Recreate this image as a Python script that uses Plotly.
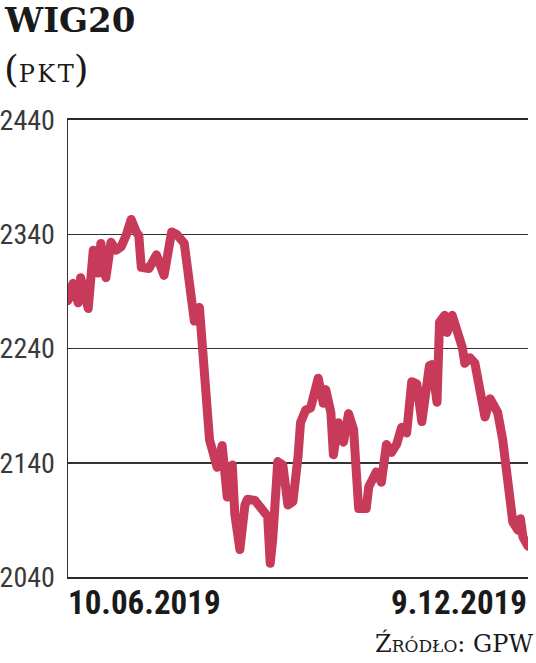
import plotly.graph_objects as go

# --- data ---
dates = [
    "2019-06-10", "2019-06-12", "2019-06-14", "2019-06-15", "2019-06-18", "2019-06-20",
    "2019-06-22", "2019-06-23", "2019-06-25", "2019-06-27", "2019-06-29", "2019-07-01",
    "2019-07-03", "2019-07-05", "2019-07-07", "2019-07-08", "2019-07-09", "2019-07-12",
    "2019-07-15", "2019-07-18", "2019-07-21", "2019-07-23", "2019-07-26", "2019-07-27",
    "2019-07-28", "2019-07-30", "2019-08-01", "2019-08-03", "2019-08-05", "2019-08-08",
    "2019-08-10", "2019-08-12", "2019-08-14", "2019-08-15", "2019-08-17", "2019-08-19",
    "2019-08-20", "2019-08-23", "2019-08-26", "2019-08-28", "2019-08-29", "2019-08-30",
    "2019-09-01", "2019-09-03", "2019-09-05", "2019-09-07", "2019-09-09", "2019-09-10",
    "2019-09-12", "2019-09-14", "2019-09-17", "2019-09-19", "2019-09-20", "2019-09-22",
    "2019-09-23", "2019-09-25", "2019-09-27", "2019-09-29", "2019-10-01", "2019-10-03",
    "2019-10-06", "2019-10-07", "2019-10-10", "2019-10-12", "2019-10-14", "2019-10-16",
    "2019-10-18", "2019-10-20", "2019-10-22", "2019-10-24", "2019-10-26", "2019-10-28",
    "2019-10-31", "2019-11-01", "2019-11-03", "2019-11-04", "2019-11-06", "2019-11-07",
    "2019-11-09", "2019-11-11", "2019-11-13", "2019-11-14", "2019-11-16", "2019-11-18",
    "2019-11-20", "2019-11-22", "2019-11-24", "2019-11-27", "2019-11-29", "2019-12-01",
    "2019-12-03", "2019-12-05", "2019-12-06", "2019-12-07", "2019-12-09",
]
wig20 = [
    2282, 2297, 2280, 2302, 2275, 2326,
    2306, 2332, 2302, 2333, 2326, 2329,
    2339, 2353, 2342, 2339, 2311, 2310,
    2322, 2304, 2342, 2340, 2332, 2314,
    2303, 2264, 2276, 2226, 2160, 2136,
    2155, 2110, 2138, 2095, 2064, 2103,
    2108, 2107, 2100, 2093, 2052, 2073,
    2141, 2138, 2103, 2106, 2145, 2175,
    2186, 2188, 2214, 2192, 2204, 2184,
    2147, 2175, 2158, 2183, 2169, 2100,
    2100, 2119, 2132, 2123, 2156, 2149,
    2156, 2171, 2166, 2211, 2209, 2176,
    2225, 2226, 2193, 2263, 2269, 2254,
    2269, 2255, 2241, 2227, 2232, 2227,
    2201, 2180, 2196, 2184, 2160, 2120,
    2088, 2081, 2091, 2075, 2067,
]
y_ticks = [2040, 2140, 2240, 2340, 2440]
date_labels = ["10.06.2019", "9.12.2019"]
title_text = "WIG20"
unit_letters = "PKT"
source_text = "Źródło: GPW"

LINE_COLOR = "#C73A5A"
NARROW = "Liberation Sans Narrow, Roboto Condensed, DejaVu Sans Condensed, sans-serif"
SERIF = "DejaVu Serif, Liberation Serif, serif"

fig = go.Figure()
fig.add_trace(go.Scatter(
    x=dates, y=wig20, mode="lines",
    line=dict(color=LINE_COLOR, width=9),
    hoverinfo="skip", showlegend=False,
))

unit_html = ('<span style="font-size:38px">(</span>'
             + "&#8202;".join(unit_letters)
             + '<span style="font-size:38px">)</span>')

fig.update_layout(
    width=536, height=663,
    margin=dict(l=68, r=8, t=120, b=86, autoexpand=False),
    paper_bgcolor="white", plot_bgcolor="white",
    xaxis=dict(
        range=[dates[0], dates[-1]],
        showgrid=False, zeroline=False, automargin=False,
        showticklabels=False, ticks="",
        showline=True, mirror=True, linecolor="#2a2a2a", linewidth=1.8,
    ),
    yaxis=dict(
        range=[y_ticks[0], y_ticks[-1]],
        tickvals=y_ticks, ticktext=[str(v) for v in y_ticks],
        showgrid=True, gridcolor="#333", gridwidth=1.5,
        zeroline=False, ticks="", automargin=False,
        showline=True, linecolor="#333", linewidth=1.5,
        tickfont=dict(family=NARROW, size=28, color="#3a3a3a"),
        ticklabelstandoff=6,
    ),
    annotations=[
        dict(text=f"<b>{title_text}</b>", xref="paper", yref="paper",
             x=-0.143, y=1.219, xanchor="left", yanchor="middle", showarrow=False,
             font=dict(family=SERIF, size=34, color="#1a1a1a")),
        dict(text=unit_html, xref="paper", yref="paper",
             x=-0.143, y=1.112, xanchor="left", yanchor="middle", showarrow=False,
             font=dict(family=SERIF, size=24, color="#1a1a1a")),
        dict(text=date_labels[0], xref="paper", yref="paper",
             x=-0.004, y=-0.055, xanchor="left", yanchor="middle", showarrow=False,
             font=dict(family=NARROW, size=33, color="#1a1a1a", weight="bold")),
        dict(text=date_labels[1], xref="paper", yref="paper",
             x=1.002, y=-0.055, xanchor="right", yanchor="middle", showarrow=False,
             font=dict(family=NARROW, size=33, color="#1a1a1a", weight="bold")),
        dict(text=source_text, xref="paper", yref="paper",
             x=1.016, y=-0.146, xanchor="right", yanchor="middle", showarrow=False,
             font=dict(family=SERIF, size=24, color="#1a1a1a", variant="small-caps")),
    ],
)

fig.write_html(
    "out.html",
    config={"displayModeBar": False, "staticPlot": True},
    post_script=(
        "document.body.style.margin='0';document.body.style.overflow='hidden';"
        "document.querySelectorAll('.js-line').forEach(function(p){"
        "p.style.strokeLinejoin='round';p.style.strokeLinecap='round';});"
    ),
)
